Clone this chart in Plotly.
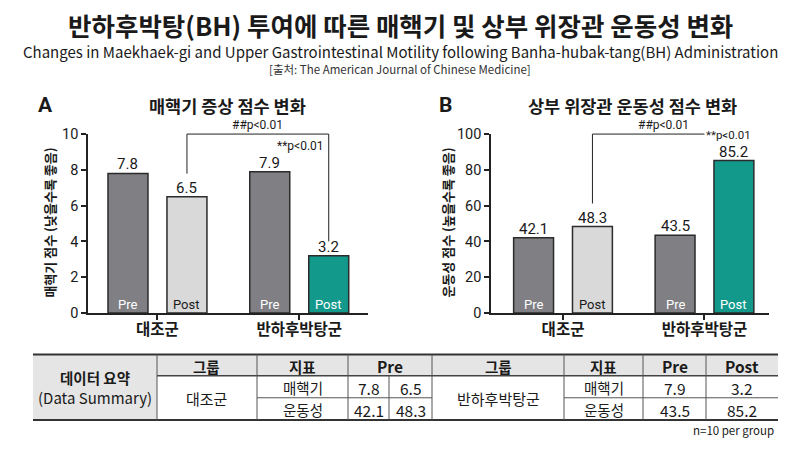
import plotly.graph_objects as go

# ---------------- data ----------------
groups = ["대조군", "반하후박탕군"]
phases = ["Pre", "Post"]
symptom_pre = [7.8, 7.9]
symptom_post = [6.5, 3.2]
motility_pre = [42.1, 43.5]
motility_post = [48.3, 85.2]
symptom_ticks = [0, 2, 4, 6, 8, 10]
motility_ticks = [0, 20, 40, 60, 80, 100]
p_between = "##p<0.01"
p_within = "**p<0.01"
indicators = ["매핵기", "운동성"]
n_note = "n=10 per group"

title_main = "반하후박탕(BH) 투여에 따른 매핵기 및 상부 위장관 운동성 변화"
title_sub = "Changes in Maekhaek-gi and Upper Gastrointestinal Motility following Banha-hubak-tang(BH) Administration"
title_src = "[출처: The American Journal of Chinese Medicine]"
panel_titles = ["매핵기 증상 점수 변화", "상부 위장관 운동성 점수 변화"]
panel_letters = ["A", "B"]
y_titles = ["매핵기 점수 (낮을수록 좋음)", "운동성 점수 (높을수록 좋음)"]

# ---------------- style ----------------
W, H = 800, 452
PRE_C = "#7f7f84"
POST_CTRL_C = "#d9d9d9"
POST_BH_C = "#12998b"
OUTLINE = "#2b2b2b"
AX_C = "#222222"
TXT = "#1a1a1a"
KR = "Noto Sans CJK KR"
NUM = "Roboto, Noto Sans CJK KR"
BARGAP = 0.168
BARGROUPGAP = 0.322
OFF = (1 - BARGAP) / 4  # centre offset of each bar within its group


def px(x):
    return x / W


def py(y):
    return 1 - y / H


fig = go.Figure()

panels = [
    dict(xa="x", ya="y", pre=symptom_pre, post=symptom_post, ticks=symptom_ticks),
    dict(xa="x2", ya="y2", pre=motility_pre, post=motility_post, ticks=motility_ticks),
]

annotations = []
shapes = []

for p in panels:
    fig.add_trace(go.Bar(
        x=groups, y=p["pre"], xaxis=p["xa"], yaxis=p["ya"], name=phases[0],
        offsetgroup="pre", showlegend=False,
        marker=dict(color=PRE_C, line=dict(color=OUTLINE, width=1.5)),
        hoverinfo="skip",
    ))
    fig.add_trace(go.Bar(
        x=groups, y=p["post"], xaxis=p["xa"], yaxis=p["ya"], name=phases[1],
        offsetgroup="post", showlegend=False,
        marker=dict(color=[POST_CTRL_C, POST_BH_C], line=dict(color=OUTLINE, width=1.5)),
        hoverinfo="skip",
    ))
    for gi in range(len(groups)):
        for k, (ph, vals) in enumerate(zip(phases, [p["pre"], p["post"]])):
            xc = gi + (-OFF if k == 0 else OFF)
            # value label above bar
            annotations.append(dict(
                x=xc, y=vals[gi], xref=p["xa"], yref=p["ya"], text=f"{vals[gi]:.1f}",
                showarrow=False, xanchor="center", yanchor="bottom", yshift=-1, borderpad=0,
                font=dict(family=NUM, size=15, color=TXT),
            ))
            # Pre / Post label at the base
            dark_text = (ph == "Post" and gi == 0)
            annotations.append(dict(
                x=xc, y=0, xref=p["xa"], yref=p["ya"],
                text=ph, showarrow=False, xanchor="center", yanchor="bottom", yshift=-1,
                font=dict(family=NUM, size=13, color=TXT if dark_text else "white"),
            ))

# significance brackets
ppu_a = (317 - 131) / symptom_ticks[-1]
ppu_b = (317 - 131) / motility_ticks[-1]
BR = dict(color=AX_C, width=1)
# Panel A
shapes += [
    dict(type="line", xref="x", yref="y", x0=OFF, x1=OFF,
         y0=symptom_post[0] + 24 / ppu_a, y1=symptom_ticks[-1], line=BR),
    dict(type="line", xref="x", yref="y domain", x0=OFF, x1=1 + OFF, y0=1, y1=1, line=BR),
    dict(type="line", xref="x", yref="y", x0=1 + OFF, x1=1 + OFF,
         y0=symptom_post[1] + 15 / ppu_a, y1=symptom_ticks[-1], line=BR),
]
annotations += [
    dict(x=(OFF + 1 + OFF) / 2, y=1, xref="x", yref="y domain", text=p_between,
         showarrow=False, xanchor="center", yanchor="bottom", yshift=0,
         font=dict(family=NUM, size=12, color=TXT)),
    dict(x=1 + OFF, y=symptom_ticks[-1], xref="x", yref="y", text=p_within,
         showarrow=False, xanchor="right", xshift=-3, yanchor="middle", yshift=-12,
         font=dict(family=NUM, size=12, color=TXT)),
]
# Panel B
shapes += [
    dict(type="line", xref="x2", yref="y2", x0=OFF, x1=OFF,
         y0=motility_post[0] + 24 / ppu_b, y1=motility_ticks[-1], line=BR),
    dict(type="line", xref="x2", yref="y2 domain", x0=OFF, x1=1, y0=1, y1=1, line=BR),
]
annotations += [
    dict(x=(OFF + 1 + OFF) / 2, y=1, xref="x2", yref="y2 domain", text=p_between,
         showarrow=False, xanchor="center", yanchor="bottom", yshift=0,
         font=dict(family=NUM, size=12, color=TXT)),
    dict(x=1, y=motility_ticks[-1], xref="x2", yref="y2", text=p_within,
         showarrow=False, xanchor="left", xshift=1, yanchor="middle", yshift=-1, borderpad=0,
         font=dict(family=NUM, size=11.5, color=TXT)),
]


def label(x, y, t, size, family=KR, bold=False, xanchor="center", color=TXT, angle=0):
    return dict(x=px(x), y=py(y), xref="paper", yref="paper", showarrow=False,
                xanchor=xanchor, yanchor="middle", textangle=angle,
                text=f"<b>{t}</b>" if bold else t,
                font=dict(family=family, size=size, color=color))


# titles
annotations += [
    label(400, 17, title_main, 25.5, bold=True),
    label(400, 45.5, title_sub, 15),
    label(400, 63.5, title_src, 11.5, color="#333333"),
    label(45, 101, panel_letters[0], 21, family=NUM, bold=True),
    label(445, 101, panel_letters[1], 21, family=NUM, bold=True),
    label(228, 101, panel_titles[0], 17.5, bold=True),
    label(632, 101, panel_titles[1], 17.5, bold=True),
    label(50, 223, f"<b>{y_titles[0]}</b>", 13, angle=-90),
    label(448, 223, f"<b>{y_titles[1]}</b>", 13, angle=-90),
]

# ---------------- summary table ----------------
cols = [33, 157, 257, 348, 389, 432, 564, 643, 706, 778]
rows = [360, 382, 405, 428]
GRAY = "#e5e5e5"
LINE_C = "#555555"

shapes += [
    dict(type="rect", xref="paper", yref="paper", x0=px(cols[0]), x1=px(cols[1]),
         y0=py(rows[3]), y1=py(rows[0]), fillcolor=GRAY, line=dict(width=0), layer="below"),
    dict(type="rect", xref="paper", yref="paper", x0=px(cols[1]), x1=px(cols[-1]),
         y0=py(rows[1]), y1=py(rows[0]), fillcolor=GRAY, line=dict(width=0), layer="below"),
]


def hline(x0, x1, y, w=1, c=LINE_C):
    return dict(type="line", xref="paper", yref="paper", x0=px(x0), x1=px(x1),
                y0=py(y), y1=py(y), line=dict(color=c, width=w))


def vline(x, y0, y1, w=1, c=LINE_C):
    return dict(type="line", xref="paper", yref="paper", x0=px(x), x1=px(x),
                y0=py(y0), y1=py(y1), line=dict(color=c, width=w))


shapes += [
    hline(cols[0], cols[-1], rows[0], 2, "#333333"),
    hline(cols[0], cols[-1], rows[3], 2, "#333333"),
    hline(cols[1], cols[-1], rows[1], 1.5, "#444444"),
    hline(cols[2], cols[5], rows[2]),
    hline(cols[6], cols[9], rows[2]),
]
for c in [cols[1], cols[2], cols[3], cols[5], cols[6], cols[7], cols[8]]:
    shapes.append(vline(c, rows[0], rows[3]))
shapes.append(vline(cols[4], rows[1], rows[3]))


def mid(a, b):
    return (a + b) / 2


hy = mid(rows[0], rows[1]) + 1
r1 = mid(rows[1], rows[2]) + 1
r2 = mid(rows[2], rows[3]) + 1
annotations += [
    label(mid(cols[0], cols[1]), 384, "데이터 요약", 14.5, bold=True),
    label(mid(cols[0], cols[1]), 405, "(Data Summary)", 15),
    label(mid(cols[1], cols[2]), hy, "그룹", 14.5, bold=True),
    label(mid(cols[2], cols[3]), hy, "지표", 14.5, bold=True),
    label(mid(cols[3], cols[5]), hy, phases[0], 15.5, bold=True),
    label(mid(cols[5], cols[6]), hy, "그룹", 14.5, bold=True),
    label(mid(cols[6], cols[7]), hy, "지표", 14.5, bold=True),
    label(mid(cols[7], cols[8]), hy, phases[0], 15.5, bold=True),
    label(mid(cols[8], cols[9]), hy, phases[1], 15.5, bold=True),
    label(mid(cols[1], cols[2]), rows[2] + 1, groups[0], 15),
    label(mid(cols[5], cols[6]), rows[2] + 1, groups[1], 15),
    label(mid(cols[2], cols[3]), r1, indicators[0], 14.5),
    label(mid(cols[2], cols[3]), r2, indicators[1], 14.5),
    label(mid(cols[6], cols[7]), r1, indicators[0], 14.5),
    label(mid(cols[6], cols[7]), r2, indicators[1], 14.5),
    label(mid(cols[3], cols[4]), r1, f"{symptom_pre[0]:.1f}", 15.5),
    label(mid(cols[4], cols[5]), r1, f"{symptom_post[0]:.1f}", 15.5),
    label(mid(cols[3], cols[4]), r2, f"{motility_pre[0]:.1f}", 15.5),
    label(mid(cols[4], cols[5]), r2, f"{motility_post[0]:.1f}", 15.5),
    label(mid(cols[7], cols[8]), r1, f"{symptom_pre[1]:.1f}", 15.5),
    label(mid(cols[8], cols[9]), r1, f"{symptom_post[1]:.1f}", 15.5),
    label(mid(cols[7], cols[8]), r2, f"{motility_pre[1]:.1f}", 15.5),
    label(mid(cols[8], cols[9]), r2, f"{motility_post[1]:.1f}", 15.5),
    label(776, 439, n_note, 11.5, xanchor="right"),
]

axis_common = dict(showline=True, linecolor=AX_C, linewidth=1.5, ticks="outside", ticklen=5,
                   tickwidth=1.5, tickcolor=AX_C, showgrid=False, zeroline=False, fixedrange=True)

fig.update_layout(
    width=W, height=H, margin=dict(l=0, r=0, t=0, b=0),
    paper_bgcolor="white", plot_bgcolor="white",
    barmode="group", bargap=BARGAP, bargroupgap=BARGROUPGAP,
    showlegend=False,
    xaxis=dict(domain=[px(88), px(368)], anchor="y", type="category", range=[-0.490, 1.485],
               tickfont=dict(family=KR, size=15.5, color=TXT, weight="bold"),
               ticklabelstandoff=-3, **axis_common),
    yaxis=dict(domain=[py(317), py(131)], anchor="x", range=[0, symptom_ticks[-1]],
               tickvals=symptom_ticks, tickfont=dict(family=NUM, size=14.5, color=TXT),
               **axis_common),
    xaxis2=dict(domain=[px(491), px(769)], anchor="y2", type="category", range=[-0.509, 1.456],
                tickfont=dict(family=KR, size=15.5, color=TXT, weight="bold"),
                ticklabelstandoff=-3, **axis_common),
    yaxis2=dict(domain=[py(317), py(131)], anchor="x2", range=[0, motility_ticks[-1]],
                tickvals=motility_ticks, tickfont=dict(family=NUM, size=14.5, color=TXT),
                **axis_common),
    annotations=annotations,
    shapes=shapes,
)

fig.write_html("out.html", config={"displayModeBar": False},
               post_script="document.body.style.margin='0';document.body.style.padding='0';")
